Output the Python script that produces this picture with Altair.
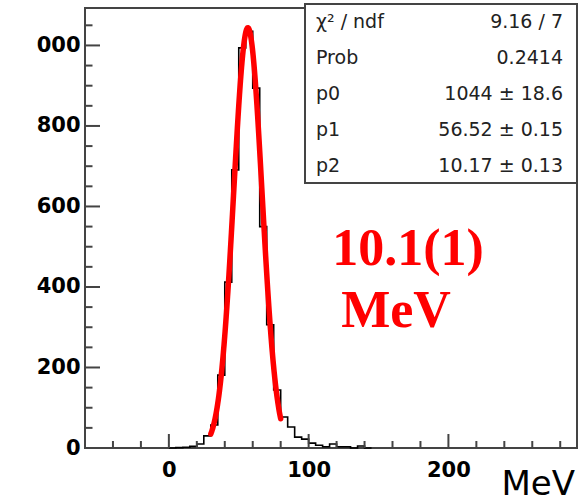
import altair as alt
import pandas as pd

# ---------------- data ----------------
bin_left = [0, 5, 10, 15, 20, 25, 30, 35, 40, 45, 50, 55, 60, 65, 70, 75, 80, 85,
            90, 95, 100, 105, 110, 115, 120, 125, 130, 135, 140, 145]
counts = [0, 1, 2, 4, 10, 30, 57, 181, 412, 691, 994, 1035, 894, 550, 306, 144, 77, 52,
          27, 22, 12, 7, 3, 10, 3, 3, 0, 5, 0, 0]

# fit parameters (gaus) from the stats box
p0, p1, p2 = 1044.0, 56.52, 10.17
fit_range = [30, 80]

stat_names = ["\u03c7\u00b2 / ndf", "Prob", "p0", "p1", "p2"]
stat_values = ["9.16 / 7", "0.2414", "1044 \u00b1 18.6", "56.52 \u00b1 0.15", "10.17 \u00b1 0.13"]

x_major = [0, 100, 200]
x_major_labels = ["0", "100", "200"]
x_minor = [-40, -20, 20, 40, 60, 80, 120, 140, 160, 180, 220, 240, 260, 280]
y_major = [0, 200, 400, 600, 800, 1000]
y_major_labels = ["0", "200", "400", "600", "800", "000"]
y_minor = [50, 100, 150, 250, 300, 350, 450, 500, 550, 650, 700, 750, 850, 900, 950, 1050]

annot_lines = ["10.1(1)", "MeV"]
axis_title = "MeV"

# ---------------- layout ----------------
W, H = 492, 440
xs = alt.Scale(domain=[-60, 292], nice=False, zero=False)
ys = alt.Scale(domain=[0, 1093], nice=False, zero=False)
AX = "#444444"


def label_expr(vals, labs):
    e = "''"
    for v, l in zip(vals, labs):
        e = f"datum.value == {v} ? '{l}' : ({e})"
    return e


hist_df = pd.DataFrame({"x": bin_left, "n": counts})
hist = alt.Chart(hist_df).mark_line(
    interpolate="step-after", color="black", strokeWidth=1.6
).encode(
    x=alt.X("x:Q", scale=xs, axis=alt.Axis(
        values=x_major, labelExpr=label_expr(x_major, x_major_labels), title=None,
        ticks=False, domain=False, grid=False, labelFont="DejaVu Sans",
        labelFontWeight="bold", labelFontSize=21, labelColor="black", labelPadding=11,
        labelFlush=False)),
    y=alt.Y("n:Q", scale=ys, axis=alt.Axis(
        values=y_major, labelExpr=label_expr(y_major, y_major_labels), title=None,
        ticks=False, domain=False, grid=False, labelFont="DejaVu Sans",
        labelFontWeight="bold", labelFontSize=21, labelColor="black", labelPadding=5,
        labelFlush=False)),
)

fit = alt.Chart(alt.sequence(fit_range[0], fit_range[1] + 0.01, 0.25, as_="x")).transform_calculate(
    y=f"{p0}*exp(-pow(datum.x-{p1},2)/(2*pow({p2},2)))"
).mark_line(color="#ff0000", strokeWidth=5.5, strokeCap="round", strokeJoin="round").encode(
    x=alt.X("x:Q", scale=xs), y=alt.Y("y:Q", scale=ys)
)


def xticks(vals, length):
    return alt.Chart(pd.DataFrame({"v": vals})).mark_rule(color=AX, strokeWidth=2).encode(
        x=alt.X("v:Q", scale=xs), y=alt.value(H), y2=alt.value(H - length))


def yticks(vals, length):
    return alt.Chart(pd.DataFrame({"v": vals})).mark_rule(color=AX, strokeWidth=2).encode(
        y=alt.Y("v:Q", scale=ys), x=alt.value(0), x2=alt.value(length))


box = alt.Chart(pd.DataFrame({"a": [0]})).mark_rect(
    fill="white", stroke=AX, strokeWidth=2
).encode(x=alt.value(220), x2=alt.value(W), y=alt.value(-4), y2=alt.value(175))

stats_df = pd.DataFrame({"name": stat_names, "val": stat_values, "i": list(range(len(stat_names)))})
stats_names = alt.Chart(stats_df).transform_calculate(py="14 + 36*datum.i").mark_text(
    align="left", baseline="middle", font="DejaVu Sans", fontSize=19, color="#222222"
).encode(x=alt.value(231), y=alt.Y("py:Q", scale=None), text="name:N")
stats_vals = alt.Chart(stats_df).transform_calculate(py="14 + 36*datum.i").mark_text(
    align="right", baseline="middle", font="DejaVu Sans", fontSize=19, color="#222222"
).encode(x=alt.value(478), y=alt.Y("py:Q", scale=None), text="val:N")

annot1 = alt.Chart(pd.DataFrame({"t": [annot_lines[0]]})).mark_text(
    align="center", baseline="alphabetic", font="Liberation Serif", fontWeight="bold",
    fontSize=52, color="#ff0000"
).encode(x=alt.value(323), y=alt.value(257), text="t:N")
annot2 = alt.Chart(pd.DataFrame({"t": [annot_lines[1]]})).mark_text(
    align="center", baseline="alphabetic", font="Liberation Serif", fontWeight="bold",
    fontSize=52, color="#ff0000"
).encode(x=alt.value(311), y=alt.value(319), text="t:N")

xtitle = alt.Chart(pd.DataFrame({"t": [axis_title]})).mark_text(
    align="right", baseline="bottom", font="DejaVu Sans", fontSize=34, color="black"
).encode(x=alt.value(W - 2), y=alt.value(H + 54), text="t:N")

chart = alt.layer(
    hist, fit,
    xticks(x_major, 14), xticks(x_minor, 7),
    yticks(y_major, 15), yticks(y_minor, 7.5),
    box, stats_names, stats_vals, annot1, annot2, xtitle,
).properties(
    width=W, height=H,
    autosize=alt.AutoSizeParams(type="none"),
    padding={"left": 85, "top": 8, "right": 1, "bottom": 56},
    background="white",
).configure_view(stroke=AX, strokeWidth=2)

chart.save("out.html", embed_options={"renderer": "svg", "actions": False})
